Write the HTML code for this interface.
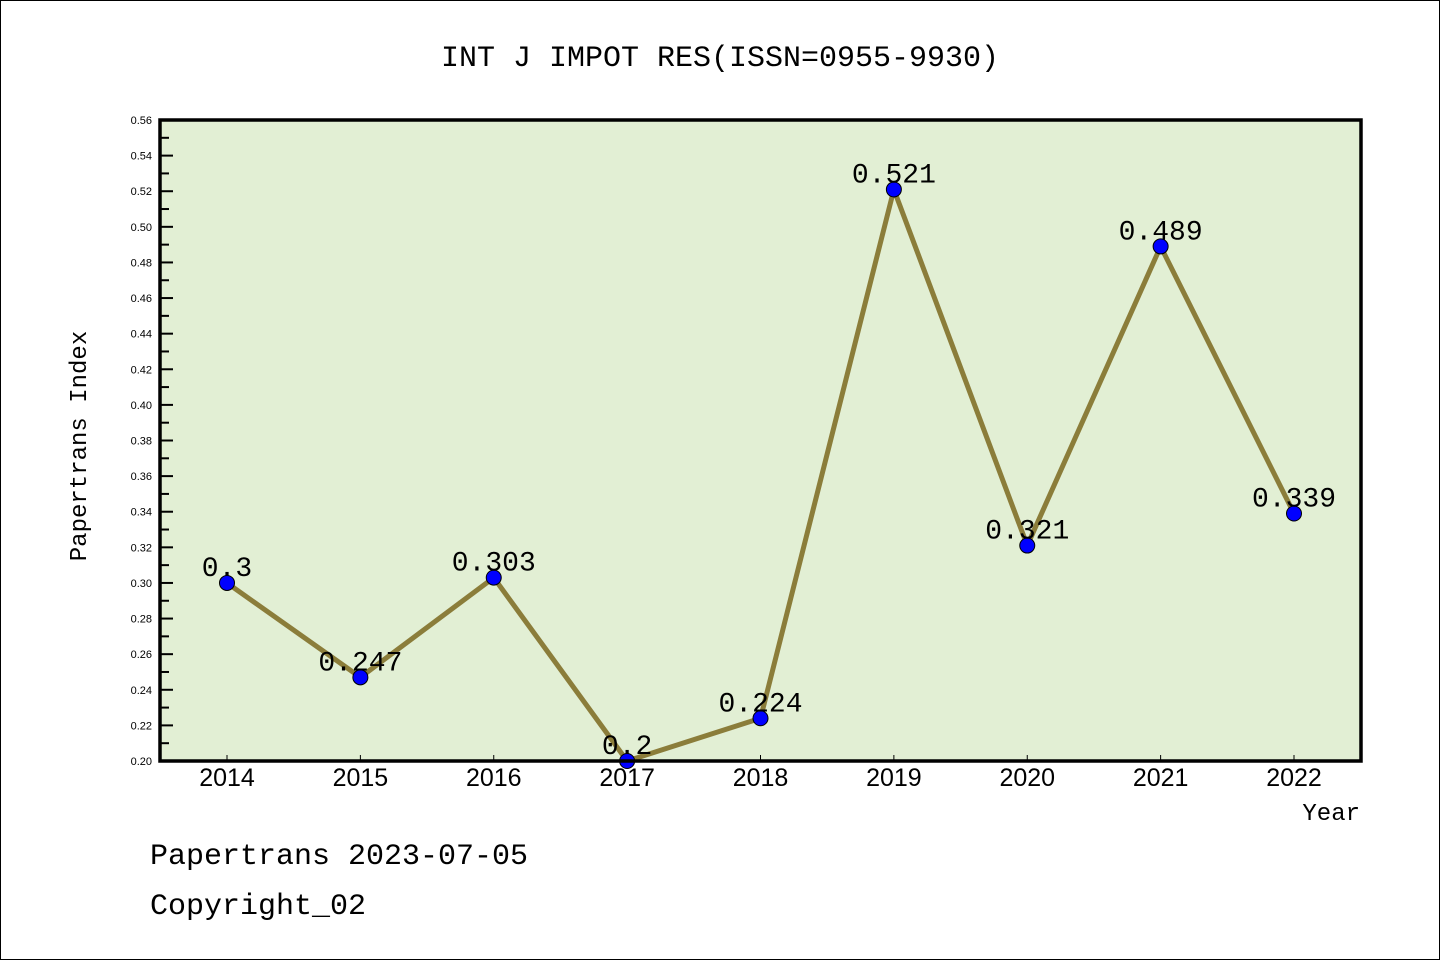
<!DOCTYPE html>
<html><head><meta charset="utf-8"><style>
body{margin:0;background:#fff}
svg{display:block;font-family:"Liberation Mono","DejaVu Sans Mono",monospace}
</style></head><body>
<svg width="1440" height="960" viewBox="0 0 1440 960">
<rect x="0.5" y="0.5" width="1439" height="959" fill="#fff" stroke="#000"/>
<text x="720" y="66" font-size="30" text-anchor="middle">INT J IMPOT RES(ISSN=0955-9930)</text>
<rect x="160" y="120" width="1201" height="641" fill="#e2efd4"/>
<g id="yaxis"></g>
<g id="xaxis"></g>
<g id="series"></g>
<rect x="160" y="120" width="1201" height="641" fill="none" stroke="#000" stroke-width="3.5"/>
<text x="86" y="446" font-size="24" text-anchor="middle" transform="rotate(-90 86 446)">Papertrans Index</text>
<text x="1360" y="820" font-size="24" text-anchor="end">Year</text>
<text x="150" y="864" font-size="30">Papertrans 2023-07-05</text>
<text x="150" y="914" font-size="30">Copyright_02</text>
</svg>
<script>
const years=["2014","2015","2016","2017","2018","2019","2020","2021","2022"];
const values=[0.3,0.247,0.303,0.2,0.224,0.521,0.321,0.489,0.339];
const valueLabels=["0.3","0.247","0.303","0.2","0.224","0.521","0.321","0.489","0.339"];
const yTicks=[0.20,0.22,0.24,0.26,0.28,0.30,0.32,0.34,0.36,0.38,0.40,0.42,0.44,0.46,0.48,0.50,0.52,0.54,0.56];
const NS="http://www.w3.org/2000/svg";
const L=160,R=1361,T=120,B=761,yMin=0.2,yMax=0.56;
function y(v){return B-(v-yMin)/(yMax-yMin)*(B-T);}
function x(i){return 227+i*(1294-227)/(years.length-1);}
function mk(tag,attrs,parent){const e=document.createElementNS(NS,tag);for(const k in attrs)e.setAttribute(k,attrs[k]);parent.appendChild(e);return e;}
const ya=document.getElementById('yaxis'),xa=document.getElementById('xaxis'),sg=document.getElementById('series');
yTicks.forEach((v,i)=>{
  const t=mk('line',{x1:L,x2:L+13,y1:y(v),y2:y(v),stroke:'#000','stroke-width':2},ya);
  
  
  const lb=mk('text',{x:152,y:y(v)+4,'font-size':11,'text-anchor':'end','font-family':'Liberation Sans, sans-serif'},ya);
  lb.textContent=v.toFixed(2);
  
  
  if(i<yTicks.length-1){
    const m=mk('line',{x1:L,x2:L+9,y1:y(v+0.01),y2:y(v+0.01),stroke:'#000','stroke-width':2},ya);
    
    
  }
});
years.forEach((yr,i)=>{
  const t=mk('line',{x1:x(i),x2:x(i),y1:B,y2:B-6,stroke:'#000','stroke-width':1},xa);
  
  
  const lb=mk('text',{x:x(i),y:786,'font-size':25,'text-anchor':'middle','font-family':'Liberation Sans, sans-serif'},xa);
  lb.textContent=yr;
  
  
});
const pts=values.map((v,i)=>x(i)+','+y(v)).join(' ');
const line=mk('polyline',{points:pts,fill:'none',stroke:'#8b7d3a','stroke-width':5,'stroke-linejoin':'round'},sg);


values.forEach((v,i)=>{
  const c=mk('circle',{cx:x(i),cy:y(v),r:7.5,fill:'#0000ff',stroke:'#000','stroke-width':1},sg);
  
  
  const t=mk('text',{x:x(i),y:y(v)-7,'font-size':28,'text-anchor':'middle'},sg);
  t.textContent=valueLabels[i];
  
  
});
</script>
</body></html>
